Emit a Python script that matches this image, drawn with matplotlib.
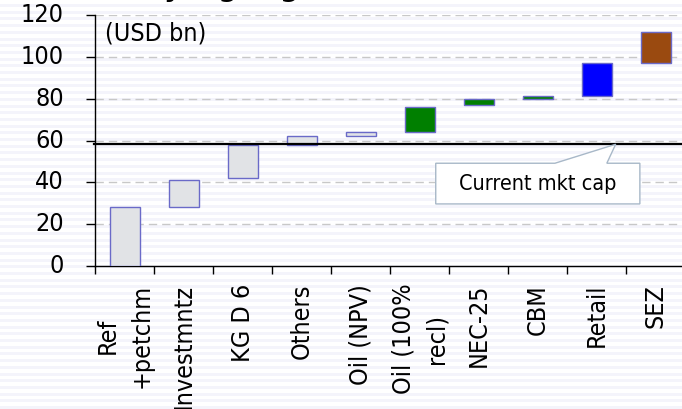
import os
import numpy as np
import matplotlib
matplotlib.use("Agg")
import matplotlib.pyplot as plt
from matplotlib import font_manager, markers
from matplotlib.patches import Polygon, Rectangle

# Sum-of-the-parts waterfall (USD bn)
categories = ["Ref\n+petchm", "Investmntz", "KG D 6", "Others", "Oil (NPV)",
              "Oil (100%\nrecl)", "NEC-25", "CBM", "Retail", "SEZ"]
bar_bottom = [0, 28, 42, 58, 62, 64, 77, 80, 81.5, 97]
bar_top = [28, 41, 58, 62, 64, 76, 80, 81.5, 97, 112]
bar_colors = ["#E1E3E6", "#E1E3E6", "#E1E3E6", "#E1E3E6", "#E1E3E6",
              "#007F00", "#007F00", "#007F00", "#0000FF", "#9A4A10"]
market_cap = 58.2
y_ticks = [0, 20, 40, 60, 80, 100, 120]
unit_label = "(USD bn)"
callout_label = "Current mkt cap"
title_text = "Valuation by big segments"

plt.rcParams.update({
    "xtick.direction": "out",
    "xtick.major.size": 0,
    "xtick.major.pad": 13,
    "xtick.minor.size": 5.5,
    "xtick.minor.width": 1,
    "xtick.color": "black",
})


def pick_font(size):
    for f in font_manager.fontManager.ttflist:
        if os.path.basename(f.fname) == "DejaVuSansCondensed.ttf":
            return font_manager.FontProperties(fname=f.fname, size=size)
    return font_manager.FontProperties(family="DejaVu Sans", size=size * 0.88)


W, H = 682, 409
fig = plt.figure(figsize=(W / 100, H / 100), dpi=100)
fig.patch.set_facecolor("white")

# faint horizontal banding behind everything
for yb in np.arange(0, H, 6.7):
    fig.add_artist(Rectangle((0, yb / H), 1, 3 / H, transform=fig.transFigure,
                             facecolor="#F4F4FB", edgecolor="none", zorder=-10))

ax = fig.add_axes([95.3 / W, 143.3 / H, 590 / W, 250.4 / H])
ax.set_facecolor("none")
ax.set_xlim(-0.5, len(categories) - 0.5)
ax.set_ylim(0, 120)

x = np.arange(len(categories))
heights = np.array(bar_top) - np.array(bar_bottom)
ax.bar(x, heights, bottom=bar_bottom, width=0.5, color=bar_colors,
       edgecolor="#6A6AC8", linewidth=1, zorder=3)

for s in ["top", "right"]:
    ax.spines[s].set_visible(False)
for s in ["left", "bottom"]:
    ax.spines[s].set_color("black")
    ax.spines[s].set_linewidth(1)

tick_fp = pick_font(18)

# y axis: outward tick marks and labels placed at a fixed offset from the spine
ax.set_yticks(y_ticks)
ax.tick_params(axis="y", left=False, labelleft=False)
ytrans = ax.get_yaxis_transform()
ax.plot(np.zeros(len(y_ticks)), y_ticks, linestyle="none",
        marker=markers.TICKLEFT, markersize=6.5, markeredgewidth=1,
        color="black", transform=ytrans, clip_on=False, zorder=5)
for v in y_ticks:
    ax.annotate(str(v), xy=(0, v), xycoords=ytrans, xytext=(-22.5, 0),
                textcoords="offset points", ha="right", va="center",
                fontproperties=tick_fp, annotation_clip=False)

ax.set_xticks(x)
ax.set_xticklabels(categories, rotation=90, va="top", ha="center",
                   multialignment="center", linespacing=1.5)
ax.set_xticks(np.arange(-0.5, len(categories) - 0.5, 1), minor=True)
for lab in ax.get_xticklabels():
    lab.set_fontproperties(tick_fp)

# dashed horizontal grid
for v in y_ticks[1:]:
    ax.axhline(v, color="#C8C8C8", linewidth=1, linestyle=(0, (6, 3.6)), zorder=1)

# current market cap line
ax.plot([-0.53, len(categories) - 0.5], [market_cap, market_cap], color="black",
        linewidth=1.6, clip_on=False, zorder=4)

# callout box pointing at the market cap line
bx0, bx1, by0, by1 = 5.27, 8.73, 29.6, 49.1
wedge_l, wedge_r, tip_x = 7.29, 8.17, 8.32
callout = Polygon([(bx0, by0), (bx1, by0), (bx1, by1), (wedge_r, by1),
                   (tip_x, market_cap), (wedge_l, by1), (bx0, by1)],
                  closed=True, facecolor="white", edgecolor="#A8B8C8",
                  linewidth=1, zorder=5)
ax.add_patch(callout)
ax.text(7.0, 39.3, callout_label, ha="center", va="center",
        fontproperties=pick_font(15.5), zorder=6)

ax.text(-0.336, 111.5, unit_label, ha="left", va="center",
        fontproperties=pick_font(18), zorder=6)

fig.text(-5 / W, 1 + 4 / H, title_text, ha="left", va="baseline",
         fontsize=19, fontweight="bold", color="black")

fig.savefig("out.png", dpi=100, facecolor=fig.get_facecolor())
